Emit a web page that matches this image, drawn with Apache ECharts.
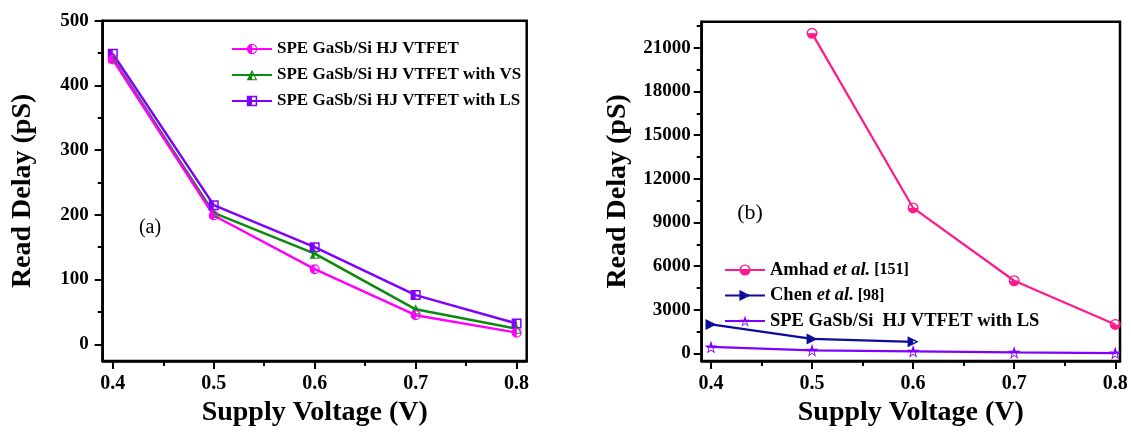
<!DOCTYPE html>
<html>
<head>
<meta charset="utf-8">
<script src="https://cdn.jsdelivr.net/npm/echarts@6/dist/echarts.min.js"></script>
<style>
html,body{margin:0;padding:0;background:#fff;}
#c{width:1131px;height:432px;}
</style>
</head>
<body>
<div id="c"></div>
<script>
// ---------- data ----------
const voltages = [0.4, 0.5, 0.6, 0.7, 0.8];
const speDelay = [440, 199, 116, 45, 18];      // SPE GaSb/Si HJ VTFET
const speVsDelay = [442, 203, 140, 54, 24];    // ... with VS
const speLsDelay = [449, 215, 150, 76, 32];    // ... with LS
const amhadVoltages = [0.5, 0.6, 0.7, 0.8];
const amhadDelay = [22000, 10000, 5000, 2000];
const chenVoltages = [0.4, 0.5, 0.6];
const chenDelay = [2000, 1000, 800];

const xTicks = [0.4, 0.5, 0.6, 0.7, 0.8];
const xMinorTicks = [0.45, 0.55, 0.65, 0.75];
const leftYTicks = [0, 100, 200, 300, 400, 500];
const leftYMinorTicks = [50, 150, 250, 350, 450];
const rightYTicks = [0, 3000, 6000, 9000, 12000, 15000, 18000, 21000];
const rightYMinorTicks = [1500, 4500, 7500, 10500, 13500, 16500, 19500, 22500];

const nameSpe = 'SPE GaSb/Si HJ VTFET';
const nameVs = 'SPE GaSb/Si HJ VTFET with VS';
const nameLs = 'SPE GaSb/Si HJ VTFET with LS';
const nameAmhad = 'Amhad et al. [151]';
const nameChen = 'Chen et al. [98]';
const nameLs2 = 'SPE GaSb/Si  HJ VTFET with LS';

// ---------- helpers ----------
const pair = (xs, ys) => xs.map((x, i) => [x, ys[i]]);
const FONT = '"Liberation Serif", "Times New Roman", serif';

// half-filled marker paths (outline ring + filled half)
const SYM_CIRCLE_L = 'path://M0,50A50,50 0 1,1 100,50A50,50 0 1,1 0,50Z M12,50A38,38 0 1,0 88,50A38,38 0 1,0 12,50Z M50,0L50,100A50,50 0 0,1 50,0Z';
const SYM_CIRCLE_B = 'path://M0,50A50,50 0 1,1 100,50A50,50 0 1,1 0,50Z M12,50A38,38 0 1,0 88,50A38,38 0 1,0 12,50Z M0,50L100,50A50,50 0 0,1 0,50Z';
const SYM_TRI_UP = 'path://M50,0L100,100L0,100Z M50,26L15,90L85,90Z M50,0L50,100L0,100Z';
const SYM_SQUARE = 'path://M0,0L100,0L100,100L0,100Z M15,15L15,85L85,85L85,15Z M0,0L50,0L50,100L0,100Z';
const SYM_TRI_R = 'path://M0,0L100,50L0,100Z M12,22L12,78L74,50Z M0,0L50,25L50,75L0,100Z';
const SYM_STAR = 'path://M50,0L61.2,34.6L97.6,34.5L68.1,55.9L79.4,90.5L50,69L20.6,90.5L31.9,55.9L2.4,34.5L38.8,34.6Z M50,20.8L43.3,41.6L21.4,41.5L39.1,54.3L32.4,75.1L50,62.2L67.6,75.1L60.9,54.3L78.6,41.5L56.7,41.6Z M50,0L61.2,34.6L97.6,34.5L76.2,50L23.8,50L2.4,34.5L38.8,34.6Z';

const tickLabel = (size) => ({color:'#000', fontFamily:FONT, fontWeight:'bold', fontSize:size});
const axisNameStyle = {color:'#000', fontFamily:FONT, fontWeight:'bold', fontSize:28};

function majorX(gridIndex, min, max) {
  return {
    type:'value', gridIndex, min, max, position:'bottom',
    name:'Supply Voltage (V)', nameLocation:'middle', nameGap:34, nameTextStyle:axisNameStyle,
    axisLine:{show:true, onZero:false, lineStyle:{color:'#000', width:2.5}},
    axisTick:{show:true, inside:false, length:8, lineStyle:{color:'#000', width:2}, customValues:xTicks},
    axisLabel:{show:true, margin:13, customValues:xTicks, formatter:v=>v.toFixed(1), ...tickLabel(20)},
    splitLine:{show:false}
  };
}
function minorX(gridIndex, min, max) {
  return {
    type:'value', gridIndex, min, max, position:'bottom',
    axisLine:{show:false, onZero:false},
    axisTick:{show:true, inside:false, length:5, lineStyle:{color:'#000', width:2}, customValues:xMinorTicks},
    axisLabel:{show:false}, splitLine:{show:false}
  };
}
function majorY(gridIndex, min, max, ticks, gap, margin) {
  return {
    type:'value', gridIndex, min, max, position:'left',
    name:'Read Delay (pS)', nameLocation:'middle', nameGap:gap, nameRotate:90, nameTextStyle:axisNameStyle,
    axisLine:{show:true, onZero:false, lineStyle:{color:'#000', width:2.5}},
    axisTick:{show:true, inside:false, length:8, lineStyle:{color:'#000', width:2}, customValues:ticks},
    axisLabel:{show:true, margin, customValues:ticks, formatter:v=>String(v), ...tickLabel(19)},
    splitLine:{show:false}
  };
}
function minorY(gridIndex, min, max, ticks) {
  return {
    type:'value', gridIndex, min, max, position:'left',
    axisLine:{show:false, onZero:false},
    axisTick:{show:true, inside:false, length:5, lineStyle:{color:'#000', width:2}, customValues:ticks},
    axisLabel:{show:false}, splitLine:{show:false}
  };
}
function lineSeries(name, data, color, symbol, size, xi, yi, width) {
  return {
    type:'line', name, data, xAxisIndex:xi, yAxisIndex:yi,
    symbol, symbolSize:size, showSymbol:true, showAllSymbol:true,
    lineStyle:{color, width}, itemStyle:{color, borderWidth:0},
    emphasis:{disabled:true}, animation:false
  };
}

const colPink = '#ff00ff', colGreen = '#0b8a0b', colPurple = '#8000ff';
const colHot = '#ff1a8c', colNavy = '#0c0c9c';

const chart = echarts.init(document.getElementById('c'), null, {renderer:'canvas'});
chart.setOption({
  backgroundColor:'#fff',
  animation:false,
  grid:[
    {left:102.7, top:20.7, width:424, height:344.3, show:true, borderColor:'#000', borderWidth:2.5, backgroundColor:'transparent'},
    {left:701.7, top:21.7, width:418.3, height:344.3, show:true, borderColor:'#000', borderWidth:2.5, backgroundColor:'transparent'}
  ],
  xAxis:[
    majorX(0, 0.39, 0.81), minorX(0, 0.39, 0.81),
    majorX(1, 0.3908, 0.8047), minorX(1, 0.3908, 0.8047)
  ],
  yAxis:[
    majorY(0, -26, 500, leftYTicks, 66, 14), minorY(0, -26, 500, leftYMinorTicks),
    majorY(1, -522, 22800, rightYTicks, 70, 11), minorY(1, -522, 22800, rightYMinorTicks)
  ],
  legend:[
    {
      orient:'vertical', left:226, top:35, itemWidth:40, itemHeight:13, itemGap:8,
      data:[nameSpe, nameVs, nameLs], selectedMode:false,
      textStyle:{color:'#000', fontFamily:FONT, fontWeight:'bold', fontSize:17, lineHeight:18}
    },
    {
      orient:'vertical', left:719, top:255, itemWidth:40, itemHeight:14, itemGap:5.5,
      data:[nameAmhad, nameChen, nameLs2], selectedMode:false,
      formatter:function(n){
        if (n === nameAmhad) return '{b|Amhad }{i|et al.}{r| [151]}';
        if (n === nameChen) return '{b|Chen }{i|et al.}{r| [98]}';
        return '{b|' + n + '}';
      },
      textStyle:{color:'#000', fontFamily:FONT, fontWeight:'bold', fontSize:18.5, lineHeight:20,
        rich:{
          b:{color:'#000', fontFamily:FONT, fontWeight:'bold', fontSize:18.5},
          i:{color:'#000', fontFamily:FONT, fontWeight:'bold', fontStyle:'italic', fontSize:18.5},
          r:{color:'#000', fontFamily:FONT, fontWeight:'bold', fontSize:16}
        }}
    }
  ],
  series:[
    lineSeries(nameLs, pair(voltages, speLsDelay), colPurple, SYM_SQUARE, 10, 0, 0, 2.5),
    lineSeries(nameVs, pair(voltages, speVsDelay), colGreen, SYM_TRI_UP, 10, 0, 0, 2.5),
    lineSeries(nameSpe, pair(voltages, speDelay), colPink, SYM_CIRCLE_L, 10, 0, 0, 2.5),
    lineSeries(nameAmhad, pair(amhadVoltages, amhadDelay), colHot, SYM_CIRCLE_B, 11, 2, 2, 2.2),
    lineSeries(nameChen, pair(chenVoltages, chenDelay), colNavy, SYM_TRI_R, 11, 2, 2, 2.2),
    lineSeries(nameLs2, pair(voltages, speLsDelay), colPurple, SYM_STAR, 13, 2, 2, 2.2)
  ],
  graphic:[
    {type:'text', x:150, y:228, style:{text:'(a)', fill:'#000', font:'20px "Liberation Serif", serif', align:'center', verticalAlign:'middle'}},
    {type:'text', x:750, y:213, style:{text:'(b)', fill:'#000', font:'22px "Liberation Serif", serif', align:'center', verticalAlign:'middle'}}
  ]
});
</script>
</body>
</html>
